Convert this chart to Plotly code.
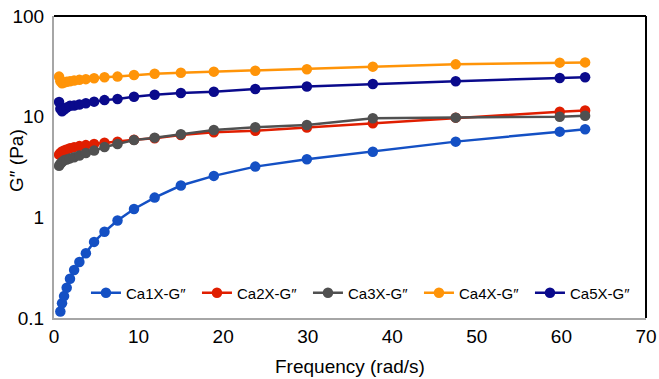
import plotly.graph_objects as go

freq = [0.6, 0.75, 0.95, 1.19, 1.5, 1.89, 2.38, 3.0, 3.77, 4.74, 5.97, 7.51,
        9.46, 11.9, 15.0, 18.9, 23.8, 29.9, 37.7, 47.5, 59.8, 62.8]

ca1x = [None, 0.116, 0.14, 0.165, 0.2, 0.245, 0.3, 0.36, 0.44, 0.57, 0.72, 0.93,
        1.21, 1.57, 2.07, 2.58, 3.19, 3.77, 4.49, 5.65, 7.1, 7.5]
ca2x = [4.2, 4.35, 4.5, 4.6, 4.72, 4.85, 4.98, 5.1, 5.22, 5.35, 5.5, 5.65,
        5.9, 6.1, 6.58, 7.0, 7.26, 7.82, 8.6, 9.78, 11.2, 11.5]
ca3x = [3.25, 3.4, 3.55, 3.68, 3.76, 3.85, 3.96, 4.12, 4.35, 4.6, 5.0, 5.35,
        5.85, 6.19, 6.68, 7.38, 7.85, 8.28, 9.64, 9.78, 10.0, 10.2]
ca4x = [25.0, 22.5, 21.5, 21.8, 22.2, 22.5, 22.9, 23.2, 23.6, 24.1, 24.6, 25.0,
        25.9, 26.7, 27.3, 28.0, 28.6, 29.6, 31.4, 33.1, 34.4, 34.6]
ca5x = [14.0, 12.0, 11.3, 11.8, 12.3, 12.8, 12.9, 13.2, 13.6, 14.1, 14.6, 15.0,
        15.8, 16.5, 17.2, 17.7, 18.8, 19.9, 21.1, 22.5, 24.2, 24.6]

names = ["Ca1X-G″", "Ca2X-G″", "Ca3X-G″", "Ca4X-G″", "Ca5X-G″"]
series = [ca1x, ca2x, ca3x, ca4x, ca5x]
colors = ["#1450c4", "#e01e00", "#505050", "#ff9408", "#0a0a8c"]

x_ticks = [0, 10, 20, 30, 40, 50, 60, 70]
y_ticks = [0.1, 1, 10, 100]
y_ticktext = ["0.1", "1", "10", "100"]

fig = go.Figure()
for name, ys, c in zip(names, series, colors):
    fig.add_trace(go.Scatter(
        x=freq, y=ys, name=name, mode="lines+markers",
        line=dict(color=c, width=2.5),
        marker=dict(color=c, size=10.5),
        connectgaps=True,
    ))

font_family = "Liberation Sans, Arial, sans-serif"

fig.update_layout(
    width=659, height=379,
    margin=dict(l=54, r=13, t=16, b=61),
    paper_bgcolor="white", plot_bgcolor="white",
    font=dict(family=font_family, color="black"),
    showlegend=True,
    legend=dict(
        orientation="h", x=0.054, y=0.083, xanchor="left", yanchor="middle",
        font=dict(size=15, family=font_family),
        bgcolor="rgba(255,255,255,0)", itemwidth=30,
        entrywidth=66, entrywidthmode="pixels",
    ),
    xaxis=dict(
        range=[0, 70], tickvals=x_ticks, showgrid=False, zeroline=False,
        showline=True, linecolor="#a6a6a6", linewidth=2,
        tickfont=dict(size=19), ticks="", automargin=False,
    ),
    yaxis=dict(
        type="log", range=[-1, 2], tickvals=y_ticks, ticktext=y_ticktext,
        showgrid=False, zeroline=False, showline=True, linecolor="#a6a6a6",
        linewidth=2, tickfont=dict(size=19), ticks="", ticklabelstandoff=4,
        automargin=False,
    ),
    shapes=[
        dict(type="line", xref="paper", yref="paper", x0=0, x1=1, y0=1, y1=1,
             line=dict(color="black", width=2)),
        dict(type="line", xref="paper", yref="paper", x0=1, x1=1, y0=0, y1=1,
             line=dict(color="black", width=2)),
    ],
    annotations=[
        dict(text="Frequency (rad/s)", xref="paper", yref="paper",
             x=0.5, y=-0.16, xanchor="center", yanchor="middle",
             showarrow=False, font=dict(size=19)),
        dict(text="G″ (Pa)", xref="paper", yref="paper",
             x=-0.0625, y=0.52, xanchor="center", yanchor="middle",
             textangle=-90, showarrow=False, font=dict(size=19)),
    ],
)

fig.write_html("out.html")
